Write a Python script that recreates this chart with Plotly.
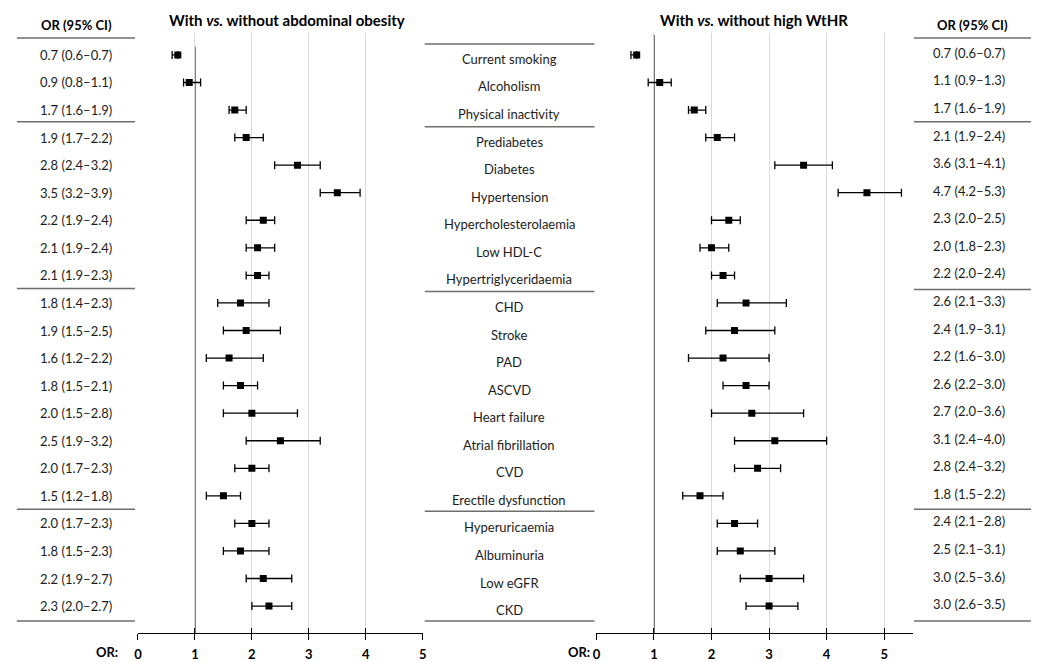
import plotly.graph_objects as go

# ---------------- DATA ----------------
categories = ["Current smoking", "Alcoholism", "Physical inactivity",
              "Prediabetes", "Diabetes", "Hypertension", "Hypercholesterolaemia",
              "Low HDL-C", "Hypertriglyceridaemia",
              "CHD", "Stroke", "PAD", "ASCVD", "Heart failure",
              "Atrial fibrillation", "CVD", "Erectile dysfunction",
              "Hyperuricaemia", "Albuminuria", "Low eGFR", "CKD"]

or_obesity = [0.7, 0.9, 1.7, 1.9, 2.8, 3.5, 2.2, 2.1, 2.1, 1.8, 1.9, 1.6, 1.8, 2.0, 2.5, 2.0, 1.5, 2.0, 1.8, 2.2, 2.3]
lo_obesity = [0.6, 0.8, 1.6, 1.7, 2.4, 3.2, 1.9, 1.9, 1.9, 1.4, 1.5, 1.2, 1.5, 1.5, 1.9, 1.7, 1.2, 1.7, 1.5, 1.9, 2.0]
hi_obesity = [0.7, 1.1, 1.9, 2.2, 3.2, 3.9, 2.4, 2.4, 2.3, 2.3, 2.5, 2.2, 2.1, 2.8, 3.2, 2.3, 1.8, 2.3, 2.3, 2.7, 2.7]

or_wthr = [0.7, 1.1, 1.7, 2.1, 3.6, 4.7, 2.3, 2.0, 2.2, 2.6, 2.4, 2.2, 2.6, 2.7, 3.1, 2.8, 1.8, 2.4, 2.5, 3.0, 3.0]
lo_wthr = [0.6, 0.9, 1.6, 1.9, 3.1, 4.2, 2.0, 1.8, 2.0, 2.1, 1.9, 1.6, 2.2, 2.0, 2.4, 2.4, 1.5, 2.1, 2.1, 2.5, 2.6]
hi_wthr = [0.7, 1.3, 1.9, 2.4, 4.1, 5.3, 2.5, 2.3, 2.4, 3.3, 3.1, 3.0, 3.0, 3.6, 4.0, 3.2, 2.2, 2.8, 3.1, 3.6, 3.5]

x_ticks = [0, 1, 2, 3, 4, 5]
title_left = "With <i>vs.</i> without abdominal obesity"
title_right = "With <i>vs.</i> without high WtHR"
col_header = "OR (95% CI)"
axis_label = "OR:"

# ---------------- LAYOUT HELPERS ----------------
W, H = 1040, 662
FONT = "Lato"
TXT = "#1c1c1c"
rows = list(range(1, len(categories) + 1))

def px(p):
    return p / W

def py(p):
    return 1 - p / H

ROW0, ROWH = 27.4, 27.6  # pixel y of row r = ROW0 + ROWH*r

def row_at(p):
    return (p - ROW0) / ROWH

def fmt(o, l, h):
    return f"{o:.1f} ({l:.1f}\u2013{h:.1f})"

fig = go.Figure()

def add_forest(ors, los, his, xa):
    fig.add_trace(go.Scatter(
        x=ors, y=rows, mode="markers", xaxis=xa, yaxis="y",
        marker=dict(symbol="square", size=7, color="black"),
        error_x=dict(type="data", symmetric=False,
                     array=[h - o for o, h in zip(ors, his)],
                     arrayminus=[o - l for o, l in zip(ors, los)],
                     color="black", thickness=1.3, width=4),
        showlegend=False, hoverinfo="skip"))

add_forest(or_obesity, lo_obesity, hi_obesity, "x")
add_forest(or_wthr, lo_wthr, hi_wthr, "x2")

axis_common = dict(
    showgrid=True, gridcolor="#d9d9d9", gridwidth=1, zeroline=False,
    tickvals=x_ticks, showline=True, linecolor="black", linewidth=1.3,
    ticks="outside", ticklen=6, tickwidth=1.3, tickcolor="black",
    tickfont=dict(family=FONT, size=13, color="black", weight="bold"),
    ticklabelstandoff=3, fixedrange=True)
inner_ticks = dict(tickvals=x_ticks, ticks="inside", ticklen=5, tickwidth=1.3,
                   tickcolor="black", showticklabels=False, showgrid=False,
                   zeroline=False, showline=False, anchor="y")

y_top, y_bot = 33, 634

fig.update_layout(
    width=W, height=H, margin=dict(l=0, r=0, t=0, b=0),
    paper_bgcolor="white", plot_bgcolor="white",
    xaxis=dict(domain=[px(135), px(422)], range=[0, 5], anchor="y", **axis_common),
    xaxis2=dict(domain=[px(597), px(916)], range=[0, 5.5], anchor="y", **axis_common),
    xaxis3=dict(overlaying="x", range=[0, 5], **inner_ticks),
    xaxis4=dict(overlaying="x2", range=[0, 5.5], **inner_ticks),
    yaxis=dict(domain=[py(y_bot), py(y_top)], range=[row_at(y_bot), row_at(y_top)],
               showgrid=False, zeroline=False, showticklabels=False, ticks="",
               showline=False, fixedrange=True),
)
# dummy traces so overlay axes render
fig.add_trace(go.Scatter(x=[None], y=[None], xaxis="x3", yaxis="y", showlegend=False))
fig.add_trace(go.Scatter(x=[None], y=[None], xaxis="x4", yaxis="y", showlegend=False))

shapes = []
# reference lines at OR = 1
shapes.append(dict(type="line", xref="x", yref="paper", x0=1, x1=1, y0=py(47), y1=py(y_bot),
                   line=dict(color="#3a3a3a", width=1.5), layer="between"))
shapes.append(dict(type="line", xref="x2", yref="paper", x0=1, x1=1, y0=py(35), y1=py(y_bot),
                   line=dict(color="#3a3a3a", width=1.5), layer="between"))

# table separator lines (pixel positions)
def hline(x0, x1, y):
    shapes.append(dict(type="line", xref="paper", yref="paper", x0=px(x0), x1=px(x1),
                       y0=py(y), y1=py(y), line=dict(color="#6e6e6e", width=1.6)))

for y in [38, 122, 289, 510, 622]:
    hline(13, 132, y)
for y in [44, 127, 292, 512, 622]:
    hline(424, 595, y)
for y in [38, 122, 290, 510, 622]:
    hline(917, 1035, y)

fig.update_layout(shapes=shapes)

ann = []
def text(x, y, s, size=13, bold=False, color=TXT, yref="paper", yshift=0):
    ann.append(dict(x=x, y=y, xref="paper", yref=yref, text=s, showarrow=False,
                    xanchor="center", yanchor="middle", yshift=yshift,
                    font=dict(family=FONT, size=size, color=color,
                              weight="bold" if bold else "normal")))

text(px(285), py(20), title_left, size=15, bold=True, color="black")
text(px(756), py(20), title_right, size=15, bold=True, color="black")
text(px(73), py(25), col_header, size=13, bold=True, color="black")
text(px(976), py(25), col_header, size=13, bold=True, color="black")
text(px(104), py(653), axis_label, size=13, bold=True, color="black")
text(px(579), py(653), axis_label, size=13, bold=True, color="black")

for r, c, o1, l1, h1, o2, l2, h2 in zip(rows, categories, or_obesity, lo_obesity, hi_obesity,
                                         or_wthr, lo_wthr, hi_wthr):
    text(px(73), r, fmt(o1, l1, h1), yref="y")
    text(px(509), r, c, yref="y", yshift=-4)
    text(px(972), r, fmt(o2, l2, h2), yref="y", yshift=2)

fig.update_layout(annotations=ann)
fig.write_html("out.html", config={"displayModeBar": False},
               post_script="document.body.style.margin='0';document.body.style.overflow='hidden';")
